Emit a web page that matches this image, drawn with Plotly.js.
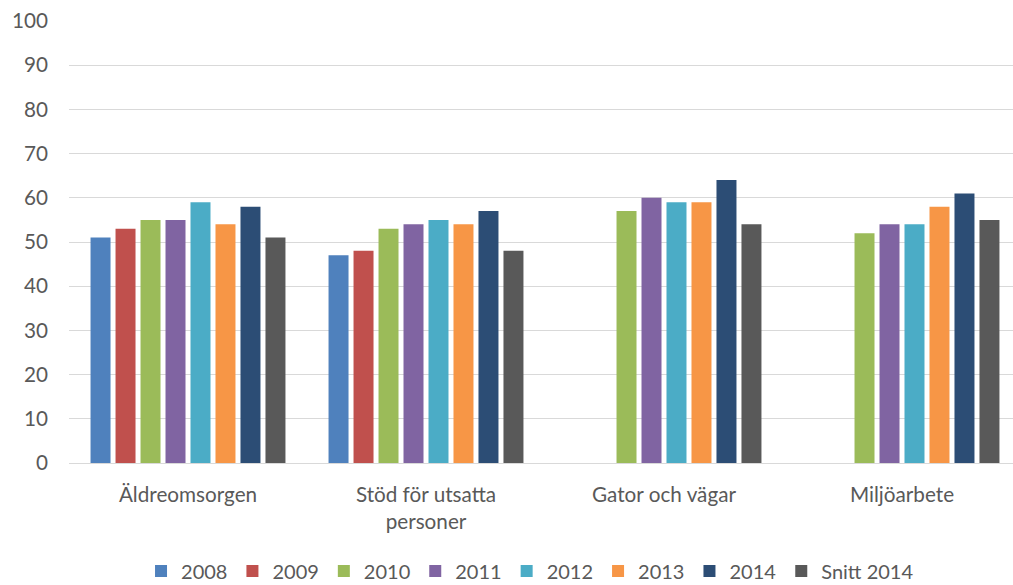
<!DOCTYPE html>
<html>
<head>
<meta charset="utf-8">
<script src="https://cdn.plot.ly/plotly-3.0.1.min.js"></script>
<style>html,body{margin:0;padding:0;background:#fff;}#chart{width:1013px;height:585px;}</style>
</head>
<body>
<div id="chart"></div>
<script>
const categories = ["Äldreomsorgen", "Stöd för utsatta<br>personer", "Gator och vägar", "Miljöarbete"];
const seriesNames = ["2008", "2009", "2010", "2011", "2012", "2013", "2014", "Snitt 2014"];
const v2008 = [51, 47, null, null];
const v2009 = [53, 48, null, null];
const v2010 = [55, 53, 57, 52];
const v2011 = [55, 54, 60, 54];
const v2012 = [59, 55, 59, 54];
const v2013 = [54, 54, 59, 58];
const v2014 = [58, 57, 64, 61];
const vSnitt = [51, 48, 54, 55];
const colors = ["#4f81bd", "#c0504d", "#9bbb59", "#8064a2", "#4bacc6", "#f79646", "#2c4d75", "#595959"];
const yTicks = [0, 10, 20, 30, 40, 50, 60, 70, 80, 90, 100];

const allValues = [v2008, v2009, v2010, v2011, v2012, v2013, v2014, vSnitt];
const traces = allValues.map((vals, i) => ({
  type: "bar",
  name: seriesNames[i],
  x: [0, 1, 2, 3],
  y: vals,
  marker: {color: colors[i]},
  hoverinfo: "y+name"
}));

const FS = 20.7;
const layout = {
  width: 1013, height: 585,
  margin: {l: 69, r: 0, t: 21, b: 122, autoexpand: false},
  paper_bgcolor: "#fff", plot_bgcolor: "#fff",
  font: {family: "Lato, 'Open Sans', sans-serif", size: FS, color: "#595959"},
  barmode: "group",
  bargap: 0.16,
  bargroupgap: 0.2,
  showlegend: true,
  legend: {
    orientation: "h",
    x: 0.0763, xanchor: "left",
    y: -0.2443, yanchor: "middle",
    traceorder: "normal",
    font: {size: 20, color: "#595959"},
    itemclick: false
  },
  xaxis: {
    type: "linear",
    range: [-0.5, -0.5 + 944 / 238],
    tickvals: [0, 1, 2, 3],
    ticktext: categories,
    showgrid: false,
    zeroline: false,
    showline: true, linecolor: "#d9d9d9", linewidth: 1.3,
    ticks: "",
    ticklabelstandoff: 13,
    tickfont: {size: FS, color: "#595959"},
    fixedrange: true
  },
  yaxis: {
    range: [0, 100],
    tickvals: yTicks,
    ticktext: yTicks.map(String),
    showgrid: true, gridcolor: "#d9d9d9", gridwidth: 1,
    zeroline: false,
    showline: false,
    ticks: "",
    ticklabelstandoff: 20,
    tickfont: {size: FS, color: "#595959"},
    fixedrange: true
  }
};

Plotly.newPlot("chart", traces, layout, {displayModeBar: false, staticPlot: true});
</script>
</body>
</html>
